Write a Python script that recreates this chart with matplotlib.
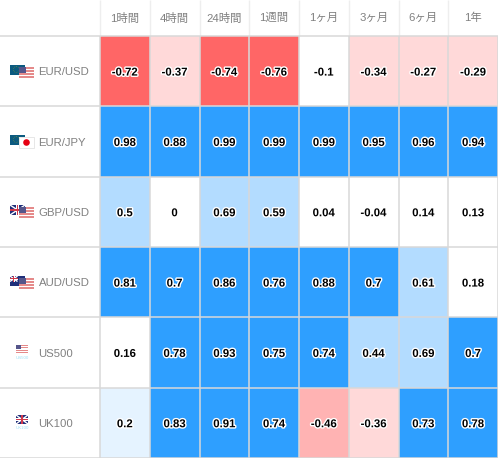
"""Correlation table of currency pairs and indices against several time frames."""

import numpy as np
import matplotlib
matplotlib.use('Agg')
import matplotlib.pyplot as plt
import matplotlib.patheffects as pe
from matplotlib.colors import ListedColormap, BoundaryNorm
from matplotlib.patches import Rectangle, Circle
from matplotlib.transforms import Affine2D

periods = ['1時間', '4時間', '24時間', '1週間', '1ヶ月', '3ヶ月', '6ヶ月', '1年']
symbols = ['EUR/USD', 'EUR/JPY', 'GBP/USD', 'AUD/USD', 'US500', 'UK100']
values = np.array([
    [-0.72, -0.37, -0.74, -0.76, -0.1, -0.34, -0.27, -0.29],
    [0.98, 0.88, 0.99, 0.99, 0.99, 0.95, 0.96, 0.94],
    [0.5, 0, 0.69, 0.59, 0.04, -0.04, 0.14, 0.13],
    [0.81, 0.7, 0.86, 0.76, 0.88, 0.7, 0.61, 0.18],
    [0.16, 0.78, 0.93, 0.75, 0.74, 0.44, 0.69, 0.7],
    [0.2, 0.83, 0.91, 0.74, -0.46, -0.36, 0.73, 0.78],
])

bins = [-1, -0.6, -0.4, -0.2, 0.2, 0.4, 0.7, 1.01]
colors = ['#ff6666', '#ffb3b3', '#ffd9d9', '#ffffff', '#e5f3ff', '#b3dcff', '#2e9fff']

GRID = '#d8d8d8'
GRAY = '#808080'
WIDTH, HEIGHT = 498, 458
COL_W = 398 / 8
ROW_H = 422 / 6
HEADER = 36

plt.rcParams['font.family'] = ['Liberation Sans', 'Noto Sans CJK JP', 'DejaVu Sans']

fig = plt.figure(figsize=(WIDTH / 100, HEIGHT / 100), dpi=100)
ax = fig.add_axes([0, 0, 1, 1])
left = -100 / COL_W
top = -HEADER / ROW_H
ax.set_xlim(left, 8)
ax.set_ylim(6, top)
ax.axis('off')

ax.pcolormesh(np.arange(9), np.arange(7), values,
              cmap=ListedColormap(colors), norm=BoundaryNorm(bins, len(colors)))

# pixel coordinates for the little flags, y going down
px = Affine2D().scale(1, -1).translate(0, HEIGHT)


def box(x, y, w, h, color, z=3):
    ax.add_patch(Rectangle((x, y), w, h, fc=color, ec='none', transform=px, zorder=z))


def us_flag(x, y, w, h, z=3):
    box(x, y, w, h, '#ffffff', z)
    for i in range(0, 7, 2):
        box(x, y + i * h / 7, w, h / 7, '#e58a8a', z)
    box(x, y, w * 0.45, h * 0.55, '#55558a', z)


def eu_flag(x, y, w, h):
    box(x, y, w, h, '#0b5a80', 3)
    ax.add_patch(Circle((x + w * 0.42, y + h * 0.45), h * 0.3, fc='none', ec='#6f8f3a',
                        lw=0.5, ls=':', transform=px, zorder=3))


def uk_flag(x, y, w, h, z=3):
    box(x, y, w, h, '#1f2f7a', z)
    ax.plot([x, x + w], [y, y + h], color='white', lw=1.0, transform=px, zorder=z, solid_capstyle='butt')
    ax.plot([x, x + w], [y + h, y], color='white', lw=1.0, transform=px, zorder=z, solid_capstyle='butt')
    box(x + w * 0.38, y, w * 0.24, h, '#ffffff', z)
    box(x, y + h * 0.36, w, h * 0.28, '#ffffff', z)
    box(x + w * 0.44, y, w * 0.12, h, '#d0384a', z)
    box(x, y + h * 0.42, w, h * 0.16, '#d0384a', z)


def jp_flag(x, y, w, h, z=4):
    box(x, y, w, h, '#ffffff', z)
    ax.add_patch(Rectangle((x, y), w, h, fc='none', ec='#dddddd', lw=0.5, transform=px, zorder=z))
    ax.add_patch(Circle((x + w / 2, y + h / 2), h * 0.3, fc='#e60012', ec='none', transform=px, zorder=z))


def au_flag(x, y, w, h):
    box(x, y, w, h, '#1f2f7a', 3)
    uk_flag(x, y, w * 0.5, h * 0.55, 3)


# cell borders, header separators and row rules over the label column
ax.vlines(np.arange(8), top, 0, color='#eeeeee', lw=1.0, zorder=2)
ax.vlines(np.arange(9), 0, 6, color=GRID, lw=1.1, zorder=2)
ax.hlines(np.arange(7), left, 8, color=GRID, lw=1.1, zorder=2)

for i, label in enumerate(periods):
    ax.text(i + 0.5, -18 / ROW_H, label, ha='center', va='center',
            color=GRAY, fontsize=8.2)

halo = [pe.withStroke(linewidth=2, foreground='white')]
for j in range(values.shape[0]):
    for i in range(values.shape[1]):
        ax.text(i + 0.5, j + 0.52, f'{values[j, i]:g}', ha='center', va='center',
                fontsize=8.2, fontweight='bold', color='black', path_effects=halo)

for j, label in enumerate(symbols):
    ax.text(38.5 / COL_W + left, j + 0.515, label, ha='left', va='center',
            color=GRAY, fontsize=8.2)

# flags, row tops in pixels
eu_flag(10, 65, 15, 10)
us_flag(19, 67, 15, 11, 4)
eu_flag(10, 135, 15, 10)
jp_flag(19, 137, 15, 11)
uk_flag(10, 205, 15, 10)
us_flag(19, 207, 15, 11, 4)
au_flag(10, 276, 15, 10)
us_flag(19, 278, 15, 11, 4)
us_flag(16, 345, 12, 8)
uk_flag(16, 415, 12, 9)
ax.text(22, 358, 'US500', transform=px, ha='center', va='center', fontsize=3.2, color='#9fe0f5')
ax.text(22, 428, 'UK100', transform=px, ha='center', va='center', fontsize=3.2, color='#9fe0f5')

fig.savefig('out.png', dpi=100, facecolor='white')
plt.close(fig)
